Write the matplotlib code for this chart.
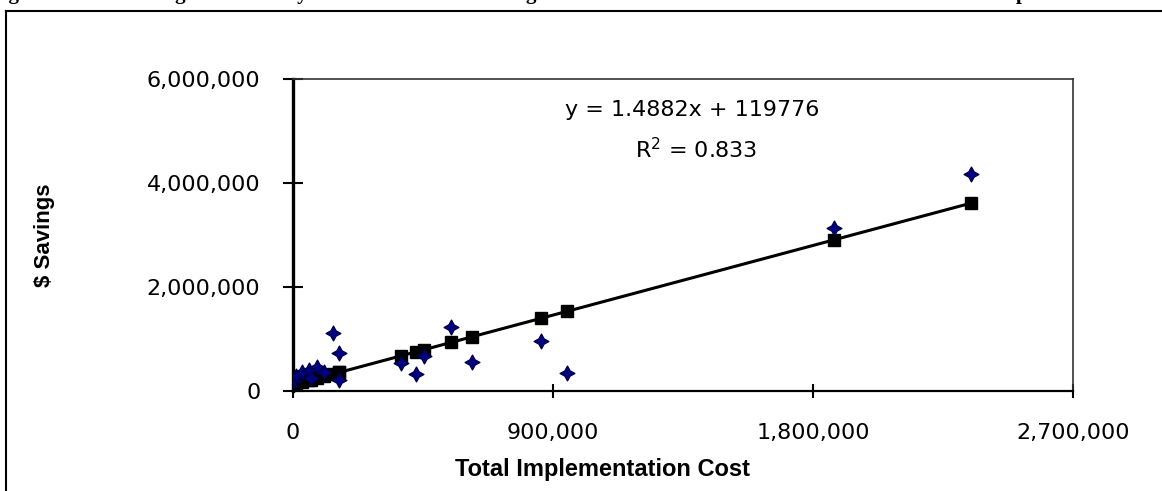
import matplotlib
matplotlib.use("Agg")
import matplotlib.pyplot as plt
from matplotlib.lines import Line2D
from matplotlib.ticker import FuncFormatter

# implementation cost vs savings
cost = [3000, 10000, 31000, 55000, 62000, 83000, 107000, 139000, 159000, 159000,
        374000, 426000, 454000, 548000, 620000, 860000, 950000, 1872000, 2346000]
savings = [192000, 288000, 365000, 404000, 250000, 462000, 365000, 1115000, 731000, 212000,
           538000, 327000, 673000, 1231000, 558000, 962000, 346000, 3135000, 4173000]
# trendline values at each cost (points sit on the fitted line)
fitted = [124000, 135000, 166000, 202000, 212000, 243000, 279000, 327000, 356000, 356000,
          676000, 754000, 795000, 935000, 1043000, 1400000, 1534000, 2906000, 3611000]

xticks = [0, 900000, 1800000, 2700000]
yticks = [0, 2000000, 4000000, 6000000]
eq_text = "y = 1.4882x + 119776"
r2_text = "R$^2$ = 0.833"

W, H = 1162, 491
fig = plt.figure(figsize=(W / 100, H / 100), dpi=100)
ax = fig.add_axes([293 / W, 1 - 391 / H, 780 / W, 312 / H])

ax.plot(cost, fitted, color="black", lw=2.2, zorder=2)
ax.plot(cost, fitted, ls="none", marker="s", ms=8, color="black", zorder=3)
ax.plot(cost, savings, ls="none", marker=(4, 1, 0), ms=11, color="#000080",
        markeredgecolor="#000040", markeredgewidth=0.8, zorder=4)

ax.set_xlim(0, 2700000)
ax.set_ylim(0, 6000000)
ax.set_xticks(xticks)
ax.set_yticks(yticks)
fmt = FuncFormatter(lambda v, p: f"{v:,.0f}")
ax.xaxis.set_major_formatter(fmt)
ax.yaxis.set_major_formatter(fmt)
ax.tick_params(axis="y", direction="inout", length=15, width=1.5, pad=16, labelsize=16)
ax.tick_params(axis="x", direction="inout", length=10, width=1.5, pad=18, labelsize=16)

ax.spines["left"].set_linewidth(2.4)
ax.spines["bottom"].set_linewidth(1.6)
ax.spines["top"].set_linewidth(1.2)
ax.spines["right"].set_linewidth(1.2)
ax.spines["top"].set_color("#333333")
ax.spines["right"].set_color("#333333")

ax.set_xlabel("Total Implementation Cost", family="Liberation Sans", weight="bold", fontsize=17)
ax.xaxis.set_label_coords(0.397, -0.215)
ax.set_ylabel("$ Savings", family="Liberation Sans", weight="bold", fontsize=16)
ax.yaxis.set_label_coords(-0.305, 0.5)

# equation box text, placed in pixels from the top-left like the reference
ax.text(692, H - 110, eq_text, transform=None, fontsize=16, ha="center", va="center")
ax.text(696, H - 150, r2_text, transform=None, fontsize=16, ha="center", va="center")

# outer frame and the clipped caption above it
fig.add_artist(Line2D([6 / W, 6 / W], [0, 1 - 11 / H], color="black", lw=1.5))
fig.add_artist(Line2D([6 / W, 1], [1 - 11 / H, 1 - 11 / H], color="black", lw=1.5))
fig.text(-10 / W, 1 + 1 / H, "Figure 4. Total Savings Achieved by the Manufacturers Using Their Recommendations as Functions of Cost and Implementation",
         family="Liberation Serif", weight="bold", fontsize=15, va="baseline", ha="left")

fig.savefig("out.png", dpi=100)
